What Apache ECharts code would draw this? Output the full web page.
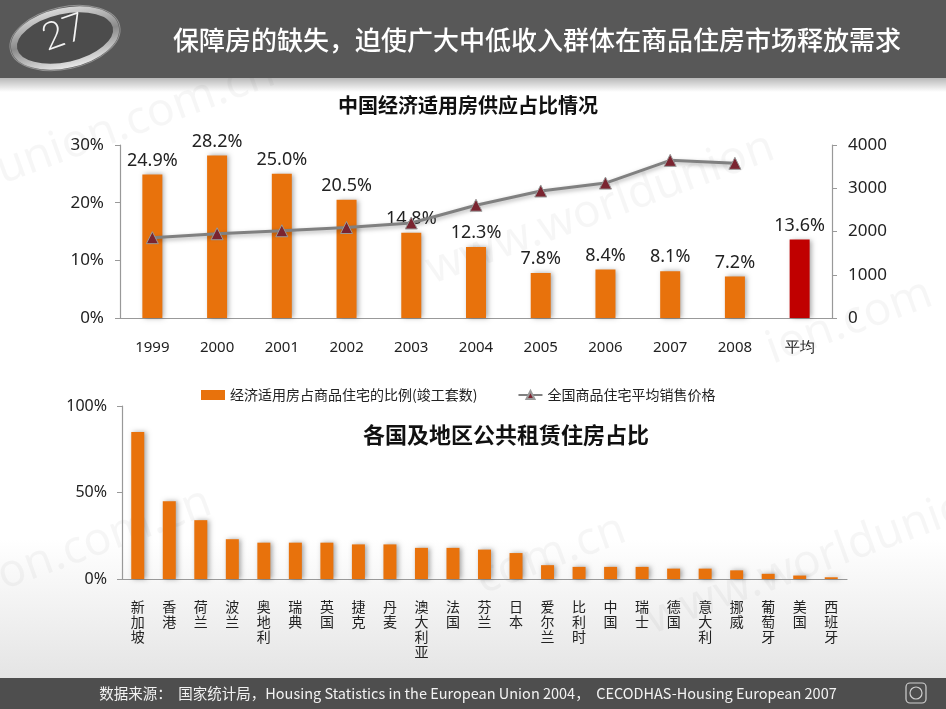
<!DOCTYPE html>
<html>
<head>
<meta charset="utf-8">
<script src="https://cdn.jsdelivr.net/npm/echarts@6/dist/echarts.min.js"></script>
<style>
  html, body { margin: 0; padding: 0; background: #fff; }
  #chart { width: 946px; height: 709px; }
</style>
</head>
<body>
<div id="chart"></div>
<script>
// top chart: affordable housing share + average price
const years = ["1999", "2000", "2001", "2002", "2003", "2004", "2005", "2006", "2007", "2008", "平均"];
const shareValues = [24.9, 28.2, 25.0, 20.5, 14.8, 12.3, 7.8, 8.4, 8.1, 7.2, 13.6];
const priceValues = [1857, 1948, 2017, 2092, 2197, 2608, 2937, 3119, 3645, 3576, null];
const shareTicks = [0, 10, 20, 30];
const priceTicks = [0, 1000, 2000, 3000, 4000];

// bottom chart: public rental housing share by country / region
const regions = ["新加坡", "香港", "荷兰", "波兰", "奥地利", "瑞典", "英国", "捷克", "丹麦", "澳大利亚", "法国",
  "芬兰", "日本", "爱尔兰", "比利时", "中国", "瑞士", "德国", "意大利", "挪威", "葡萄牙", "美国", "西班牙"];
const rentalShare = [85, 45, 34, 23, 21, 21, 21, 20, 20, 18, 18, 17, 15, 8, 7, 7, 7, 6, 6, 5, 3, 2, 1];
const rentalTicks = [0, 50, 100];

const legendNames = ["经济适用房占商品住宅的比例(竣工套数)", "全国商品住宅平均销售价格"];

const cjk = '"Noto Sans CJK SC", "Noto Sans", sans-serif';
const num = '"Noto Sans", "Open Sans", sans-serif';
const orange = "#e8720c";
const barShadow = { shadowBlur: 5, shadowColor: "rgba(0,0,0,0.35)", shadowOffsetX: 2, shadowOffsetY: 0 };

const watermark = (x, y, rot, text) => ({
  type: "text", x: x, y: y, rotation: rot, z: -5,
  style: { text: text, fill: "rgba(0,0,0,0.035)", font: "46px " + num }
});

const graphic = [
  // background fade at the bottom
  { type: "rect", z: -10, shape: { x: 0, y: 540, width: 946, height: 140 },
    style: { fill: new echarts.graphic.LinearGradient(0, 0, 0, 1, [
      { offset: 0, color: "#ffffff" }, { offset: 1, color: "#e4e4e4" }]) } },
  watermark(-10, 150, 0.35, "union.com.cn"),
  watermark(420, 250, 0.35, "www.worldunion"),
  watermark(760, 330, 0.35, "ion.com"),
  watermark(-20, 560, 0.35, "ion.com.cn"),
  watermark(470, 560, 0.35, "com.cn"),
  watermark(640, 600, 0.35, "www.worldunio"),
  // header band
  { type: "rect", shape: { x: 0, y: 0, width: 946, height: 78 }, style: { fill: "#585858" } },
  { type: "rect", shape: { x: 0, y: 78, width: 946, height: 14 },
    style: { fill: new echarts.graphic.LinearGradient(0, 0, 0, 1, [
      { offset: 0, color: "rgba(0,0,0,0.28)" }, { offset: 1, color: "rgba(0,0,0,0)" }]) } },
  {
    type: "group", x: 65, y: 38, rotation: 0.22,
    children: [
      { type: "ellipse", shape: { cx: 0, cy: 0, rx: 52, ry: 27 },
        style: { fill: "#4c4c4c",
          stroke: new echarts.graphic.LinearGradient(0, 0, 0, 1, [
            { offset: 0, color: "#d8d8d8" }, { offset: 0.5, color: "#8a8a8a" }, { offset: 1, color: "#e6e6e6" }]),
          lineWidth: 6 } },
      { type: "ellipse", shape: { cx: 0, cy: 0, rx: 56, ry: 31 },
        style: { fill: "none", stroke: "rgba(255,255,255,0.35)", lineWidth: 1 } },
      { type: "text", x: 0, y: -6, rotation: 0.12,
        style: { text: "27", fill: "#f4f4f4", font: "300 38px Lato, " + num, textAlign: "center", textVerticalAlign: "middle" } }
    ]
  },
  { type: "text", x: 537, y: 40,
    style: { text: "保障房的缺失，迫使广大中低收入群体在商品住房市场释放需求", fill: "#ffffff",
      font: "500 26px " + cjk, textAlign: "center", textVerticalAlign: "middle" } },
  // footer band
  { type: "rect", shape: { x: 0, y: 678, width: 946, height: 31 }, style: { fill: "#4e4e4e" } },
  { type: "text", x: 468, y: 693,
    style: { text: "数据来源：  国家统计局，Housing Statistics in the European Union 2004，  CECODHAS-Housing European 2007",
      fill: "#f2f2f2", font: "14.5px " + cjk, textAlign: "center", textVerticalAlign: "middle" } },
  { type: "rect", shape: { x: 906, y: 683, width: 20, height: 20, r: 4 },
    style: { fill: "none", stroke: "#cfcfcf", lineWidth: 1.2 } },
  { type: "circle", shape: { cx: 916, cy: 693, r: 6 }, style: { fill: "none", stroke: "#cfcfcf", lineWidth: 1.2 } }
];

const option = {
  backgroundColor: "#ffffff",
  animation: false,
  graphic: graphic,
  title: [
    { text: "中国经济适用房供应占比情况", left: 333, top: 90,
      textStyle: { fontFamily: cjk, fontSize: 20, fontWeight: "bold", color: "#111" } },
    { text: "各国及地区公共租赁住房占比", left: 358, top: 419,
      textStyle: { fontFamily: cjk, fontSize: 22, fontWeight: "bold", color: "#111" } }
  ],
  legend: {
    left: 196, top: 383, itemGap: 40, itemWidth: 24, itemHeight: 10,
    textStyle: { fontFamily: cjk, fontSize: 14, color: "#222" },
    data: [
      { name: legendNames[0], icon: "rect" },
      { name: legendNames[1] }
    ]
  },
  grid: [
    { left: 120, right: 114, top: 145, height: 173 },
    { left: 122, right: 99, top: 406, height: 173 }
  ],
  xAxis: [
    {
      gridIndex: 0, type: "category", data: years,
      axisLine: { lineStyle: { color: "#999", width: 1.2 } },
      axisTick: { length: 5, lineStyle: { color: "#999" } },
      axisLabel: { margin: 22, fontSize: 15, color: "#222", fontFamily: num }
    },
    {
      gridIndex: 1, type: "category", data: regions,
      axisLine: { lineStyle: { color: "#999", width: 1.2 } },
      axisTick: { length: 5, lineStyle: { color: "#999" } },
      axisLabel: {
        margin: 20, interval: 0, fontSize: 14, lineHeight: 15, color: "#222", fontFamily: cjk,
        formatter: (v) => v.split("").join("\n")
      }
    }
  ],
  yAxis: [
    {
      gridIndex: 0, type: "value", min: shareTicks[0], max: shareTicks[shareTicks.length - 1], interval: 10,
      axisLine: { show: true, lineStyle: { color: "#999", width: 1.2 } },
      axisTick: { show: true, length: 5, lineStyle: { color: "#999" } },
      splitLine: { show: false },
      axisLabel: { margin: 16, fontSize: 17, color: "#222", fontFamily: num, formatter: "{value}%" }
    },
    {
      gridIndex: 0, type: "value", position: "right",
      min: priceTicks[0], max: priceTicks[priceTicks.length - 1], interval: 1000,
      axisLine: { show: true, lineStyle: { color: "#999", width: 1.2 } },
      axisTick: { show: true, length: 5, lineStyle: { color: "#999" } },
      splitLine: { show: false },
      axisLabel: { margin: 16, fontSize: 17, color: "#222", fontFamily: num, formatter: (v) => String(v) }
    },
    {
      gridIndex: 1, type: "value", min: rentalTicks[0], max: rentalTicks[rentalTicks.length - 1], interval: 50,
      axisLine: { show: true, lineStyle: { color: "#999", width: 1.2 } },
      axisTick: { show: true, length: 5, lineStyle: { color: "#999" } },
      splitLine: { show: false },
      axisLabel: { margin: 15, fontSize: 16, color: "#222", fontFamily: num, formatter: "{value}%" }
    }
  ],
  series: [
    {
      name: legendNames[0], type: "bar", xAxisIndex: 0, yAxisIndex: 0, barWidth: 20,
      itemStyle: Object.assign({ color: orange }, barShadow),
      data: shareValues.map((v, i) => i === shareValues.length - 1
        ? { value: v, itemStyle: { color: "#c00000" } } : v),
      label: { show: true, position: "top", distance: 5, fontSize: 18, color: "#222", fontFamily: num,
        formatter: (p) => p.value.toFixed(1) + "%" }
    },
    {
      name: legendNames[1], type: "line", xAxisIndex: 0, yAxisIndex: 1, data: priceValues,
      symbol: "triangle", symbolSize: 12, z: 5,
      lineStyle: { color: "#808080", width: 3, shadowBlur: 4, shadowColor: "rgba(0,0,0,0.3)", shadowOffsetY: 2 },
      itemStyle: { color: "#7a2430", borderColor: "#9a9a9a", borderWidth: 1 }
    },
    {
      name: "公共租赁住房占比", type: "bar", xAxisIndex: 1, yAxisIndex: 2, barWidth: 13,
      itemStyle: Object.assign({ color: orange }, barShadow),
      data: rentalShare
    }
  ]
};

const chart = echarts.init(document.getElementById("chart"));
chart.setOption(option);
window.addEventListener("resize", () => chart.resize());
</script>
</body>
</html>
